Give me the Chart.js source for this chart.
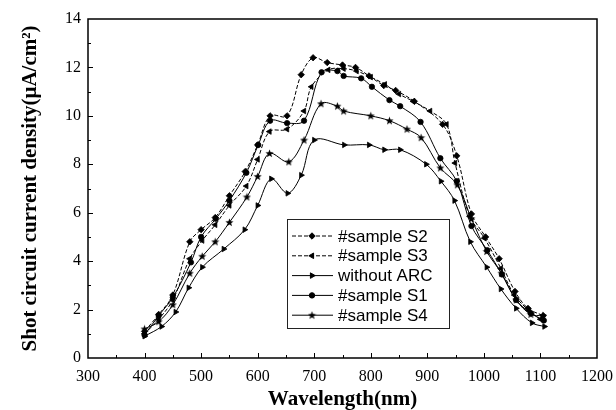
<!DOCTYPE html>
<html>
<head>
<meta charset="utf-8">
<script src="https://cdn.jsdelivr.net/npm/chart.js@4/dist/chart.umd.min.js"></script>
<style>
  html, body { margin: 0; padding: 0; background: #fff; }
  #c { display: block; }
</style>
</head>
<body>
<canvas id="c" width="616" height="410"></canvas>
<script>
// values: wavelength (nm) and Jsc (uA/cm2) per sample
const S2_NM = [400,425,450,480,500,525,550,578,600,622,652,677,698,723,750,773,797,823,844,877,927,952,978,1003,1027,1055,1078,1105];
const S2_J  = [1.1,1.8,2.6,4.8,5.3,5.8,6.7,7.7,8.8,10.0,10.0,11.7,12.4,12.2,12.1,12.0,11.65,11.25,11.05,10.6,9.65,8.35,5.95,5.0,4.1,2.75,2.05,1.75];

const S3_NM = [400,425,450,480,502,525,550,580,600,621,652,682,695,725,752,775,800,825,850,875,905,934,949,975,1001,1030,1054,1080,1100];
const S3_J  = [1.0,1.6,2.4,4.1,4.85,5.5,6.3,7.1,8.2,9.35,9.45,10.2,11.2,11.9,11.95,11.85,11.6,11.3,10.9,10.6,10.2,9.65,8.05,5.85,4.95,3.7,2.6,1.95,1.6];

const NOARC_NM = [400,430,455,478,502,540,577,600,624,653,677,700,753,797,824,852,898,924,948,976,1005,1030,1057,1085,1107];
const NOARC_J  = [0.9,1.3,1.9,2.9,3.75,4.5,5.3,6.3,7.4,6.8,7.55,9.0,8.8,8.8,8.6,8.6,8.0,7.3,6.5,4.8,3.75,2.85,2.05,1.45,1.3];

const S1_NM = [400,425,450,482,500,526,550,580,601,622,652,682,713,741,752,783,802,833,852,888,923,952,978,1006,1032,1057,1083,1106];
const S1_J  = [0.95,1.75,2.5,3.95,5.0,5.75,6.5,7.65,8.8,9.8,9.7,9.8,11.8,11.85,11.65,11.55,11.2,10.65,10.4,9.75,8.25,7.3,5.45,4.45,3.45,2.4,1.85,1.55];

const S4_NM = [400,425,450,480,502,525,550,581,600,621,655,682,712,741,752,800,833,864,889,923,953,978,1005,1031,1057,1083,1104];
const S4_J  = [1.2,1.5,2.2,3.5,4.2,4.8,5.6,6.65,7.5,8.45,8.1,9.0,10.5,10.4,10.2,10.0,9.8,9.45,9.1,7.85,7.15,5.75,4.4,3.5,2.4,1.8,1.75];

const LABELS = ['#sample S2', '#sample S3', 'without ARC', '#sample S1', '#sample S4'];
const X_TITLE = 'Wavelength(nm)';
const Y_TITLE = 'Shot circuit current density(\u03bcA/cm\u00b2)';

// filled five point star used as a marker
function starMarker(){
  const c = document.createElement('canvas');
  c.width = 9; c.height = 9;
  const g = c.getContext('2d');
  g.fillStyle = '#000';
  g.beginPath();
  for(let i = 0; i < 10; i++){
    const r = i % 2 ? 1.8 : 4.3;
    const a = -Math.PI/2 + i*Math.PI/5;
    g.lineTo(4.5 + r*Math.cos(a), 4.8 + r*Math.sin(a));
  }
  g.closePath(); g.fill();
  return c;
}
const STAR = starMarker();

const STYLES = [
  { style: 'rectRot',  rot: 0,   r: 3.2, dash: [4,2] },
  { style: 'triangle', rot: -90, r: 3.2, dash: [4,2] },
  { style: 'triangle', rot: 90,  r: 3.2, dash: [] },
  { style: 'circle',   rot: 0,   r: 2.7, dash: [] },
  { style: STAR,       rot: 0,   r: 4,   dash: [] },
];
const SERIES = [[S2_NM,S2_J],[S3_NM,S3_J],[NOARC_NM,NOARC_J],[S1_NM,S1_J],[S4_NM,S4_J]];

const datasets = SERIES.map(([nm, j], i) => ({
  label: LABELS[i],
  data: nm.map((x, k) => ({ x, y: j[k] })),
  borderColor: '#000', backgroundColor: '#000',
  borderWidth: 1, borderDash: STYLES[i].dash,
  pointStyle: STYLES[i].style, pointRotation: STYLES[i].rot,
  pointRadius: STYLES[i].r, pointBorderWidth: 0.8,
  tension: 0.35, fill: false,
}));

const serif = "'Liberation Serif', 'Times New Roman', serif";

function noPad(scale){
  scale.paddingTop = 0; scale.paddingBottom = 0;
  scale.paddingLeft = 0; scale.paddingRight = 0;
}

// frame, inward ticks and the boxed legend
const framePlugin = {
  id: 'frame',
  afterDatasetsDraw(chart){
    const { ctx, chartArea: a, scales: { x, y } } = chart;
    ctx.save();
    ctx.strokeStyle = '#000';
    ctx.lineWidth = 1.5;
    ctx.setLineDash([]);
    ctx.strokeRect(a.left, a.top, a.right - a.left, a.bottom - a.top);

    ctx.lineWidth = 1;
    ctx.beginPath();
    for(let v = 350; v < 1200; v += 50){
      const px = Math.round(x.getPixelForValue(v)) + 0.5;
      const len = v % 100 === 0 ? 5 : 3;
      ctx.moveTo(px, a.bottom); ctx.lineTo(px, a.bottom - len);
    }
    for(let v = 1; v < 14; v += 1){
      const py = Math.round(y.getPixelForValue(v)) + 0.5;
      const len = v % 2 === 0 ? 5 : 3;
      ctx.moveTo(a.left, py); ctx.lineTo(a.left + len, py);
    }
    ctx.stroke();

    // legend
    const bx = 287.5, by = 219.5, bw = 162, bh = 109;
    ctx.fillStyle = '#fff';
    ctx.fillRect(bx, by, bw, bh);
    ctx.strokeStyle = '#222';
    ctx.lineWidth = 1;
    ctx.strokeRect(bx, by, bw, bh);
    ctx.font = "17px 'Liberation Sans', Arial, sans-serif";
    ctx.textBaseline = 'middle';
    chart.data.datasets.forEach((ds, i) => {
      const ry = 236 + i*19.8;
      ctx.strokeStyle = '#000';
      ctx.setLineDash(ds.borderDash);
      ctx.beginPath();
      ctx.moveTo(292, ry); ctx.lineTo(333, ry);
      ctx.stroke();
      ctx.setLineDash([]);
      ctx.fillStyle = '#000';
      Chart.helpers.drawPoint(ctx, {
        pointStyle: ds.pointStyle, rotation: ds.pointRotation,
        radius: ds.pointRadius, borderWidth: 0.8
      }, 312, ry);
      ctx.fillStyle = '#000';
      ctx.fillText(ds.label, 338, ry + 1);
    });
    ctx.restore();
  }
};

new Chart(document.getElementById('c'), {
  type: 'line',
  data: { datasets },
  options: {
    responsive: false,
    animation: false,
    devicePixelRatio: 1,
    layout: { padding: { top: 19, right: 19, left: 0, bottom: 0 } },
    plugins: { legend: { display: false }, tooltip: { enabled: false } },
    scales: {
      x: {
        type: 'linear', min: 300, max: 1200,
        grid: { display: false, drawTicks: false },
        border: { display: false },
        ticks: { stepSize: 100, padding: 9, color: '#000', font: { family: serif, size: 16 },
                 callback: v => String(v) },
        title: { display: true, text: X_TITLE, color: '#000',
                 font: { family: serif, size: 21, weight: 'bold', lineHeight: 1 },
                 padding: { top: 0, bottom: 0 } },
        afterFit(s){ s.height = 52; noPad(s); },
      },
      y: {
        type: 'linear', min: 0, max: 14,
        grid: { display: false, drawTicks: false },
        border: { display: false },
        ticks: { stepSize: 2, padding: 7, color: '#000', font: { family: serif, size: 16 } },
        title: { display: true, text: Y_TITLE, color: '#000',
                 font: { family: serif, size: 21, weight: 'bold', lineHeight: 1 },
                 padding: { top: 20, bottom: 0 } },
        afterFit(s){ s.width = 88; noPad(s); },
      }
    }
  },
  plugins: [framePlugin]
});
</script>
</body>
</html>
